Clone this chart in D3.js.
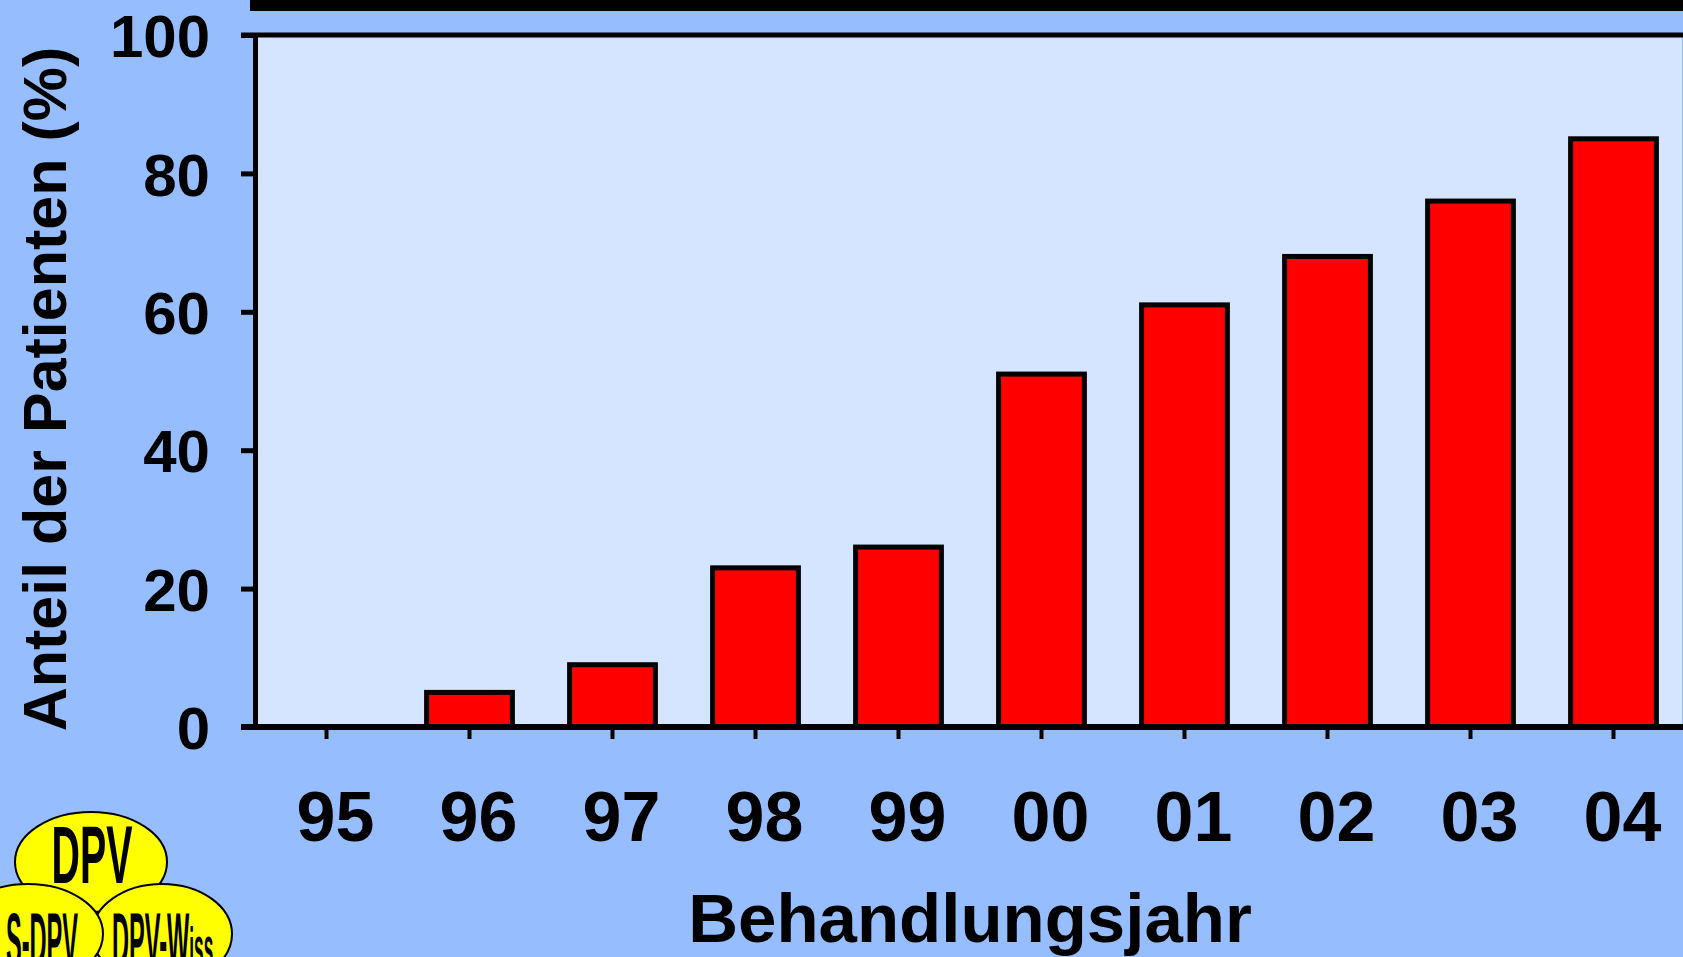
<!DOCTYPE html>
<html>
<head>
<meta charset="utf-8">
<script src="https://cdn.jsdelivr.net/npm/d3@7"></script>
<style>
html,body{margin:0;padding:0;background:#96BEFF;overflow:hidden;}
svg{display:block;}
text{font-family:"Liberation Sans",Arial,sans-serif;font-weight:bold;fill:#000;}
</style>
</head>
<body>
<svg id="chart" width="1683" height="957"></svg>
<script>
const years = ["95","96","97","98","99","00","01","02","03","04"];
const shares = [0, 5, 9, 23, 26, 51, 61, 68, 76, 85];
const yTicks = [0, 20, 40, 60, 80, 100];
const yTitle = "Anteil der Patienten (%)";
const xTitle = "Behandlungsjahr";

const W = 1683, H = 957;
const svg = d3.select("#chart");

svg.append("rect").attr("width", W).attr("height", H).attr("fill", "#96BEFF");

// top black banner edge
svg.append("rect").attr("x", 250).attr("y", 0).attr("width", W - 250).attr("height", 11).attr("fill", "#000");

const x = d3.scaleBand().domain(years).range([255, 1685]).paddingInner(0.4).paddingOuter(0.2);
const y = d3.scaleLinear().domain([0, 100]).range([727, 35]);

// plot background
svg.append("rect")
  .attr("x", 255).attr("y", y(100))
  .attr("width", 1682 - 255).attr("height", y(0) - y(100))
  .attr("fill", "#D5E5FF");

// bars
svg.append("g").selectAll("rect").data(years.map((c, i) => ({c, v: shares[i]})))
  .join("rect")
  .attr("x", d => x(d.c))
  .attr("y", d => y(d.v))
  .attr("width", x.bandwidth())
  .attr("height", d => y(0) - y(d.v))
  .attr("fill", "#FF0000")
  .attr("stroke", "#000")
  .attr("stroke-width", 5)
  .attr("visibility", d => d.v > 0 ? "visible" : "hidden");

// top frame line
svg.append("line").attr("x1", 241).attr("x2", W).attr("y1", y(100)).attr("y2", y(100))
  .attr("stroke", "#000").attr("stroke-width", 5);

// y axis
const yAxis = svg.append("g").attr("transform", "translate(255,0)")
  .call(d3.axisLeft(y).tickValues(yTicks).tickSize(14).tickSizeOuter(0).tickPadding(31));
yAxis.select(".domain").attr("stroke", "#000").attr("stroke-width", 5);
yAxis.selectAll(".tick line").attr("stroke", "#000").attr("stroke-width", 5);
yAxis.selectAll(".tick text").style("font-size", "60px").attr("dy", "0.36em")
  .style("font-family", "'Liberation Sans',Arial,sans-serif").style("font-weight", "bold");

// x axis
const xAxis = svg.append("g").attr("transform", `translate(0,${y(0)})`)
  .call(d3.axisBottom(x).tickSize(12).tickSizeOuter(0).tickPadding(52));
xAxis.select(".domain").remove();
xAxis.selectAll(".tick line").attr("stroke", "#000").attr("stroke-width", 4);
xAxis.selectAll(".tick text").style("font-size", "70px").attr("dx", 9)
  .style("font-family", "'Liberation Sans',Arial,sans-serif").style("font-weight", "bold");
svg.append("line").attr("x1", 241).attr("x2", W).attr("y1", y(0)).attr("y2", y(0))
  .attr("stroke", "#000").attr("stroke-width", 6);

// axis titles
svg.append("text").attr("transform", "translate(66,389) rotate(-90)")
  .attr("text-anchor", "middle").style("font-size", "61px").text(yTitle);
svg.append("text").attr("x", 970).attr("y", 942)
  .attr("text-anchor", "middle").style("font-size", "69px").text(xTitle);

// logo
const logo = svg.append("g");
logo.append("ellipse").attr("cx", 91).attr("cy", 862).attr("rx", 76).attr("ry", 50)
  .attr("fill", "#FFFF00").attr("stroke", "#000").attr("stroke-width", 2);
logo.append("text").attr("transform", "translate(92,883) scale(0.48,1)")
  .attr("text-anchor", "middle").style("font-size", "82px").text("DPV");
logo.append("ellipse").attr("cx", 162).attr("cy", 934).attr("rx", 70).attr("ry", 50)
  .attr("fill", "#FFFF00").attr("stroke", "#000").attr("stroke-width", 2);
logo.append("ellipse").attr("cx", 28).attr("cy", 934).attr("rx", 75).attr("ry", 50)
  .attr("fill", "#FFFF00").attr("stroke", "#000").attr("stroke-width", 2);
logo.append("text").attr("transform", "translate(78,966) scale(0.31,1)")
  .attr("text-anchor", "end").style("font-size", "76px").text("S-DPV");
const wiss = logo.append("text").attr("transform", "translate(112,966) scale(0.31,1)")
  .attr("text-anchor", "start").style("font-size", "76px");
wiss.append("tspan").text("DPV-W");
wiss.append("tspan").style("font-size", "56px").text("iss");
</script>
</body>
</html>
